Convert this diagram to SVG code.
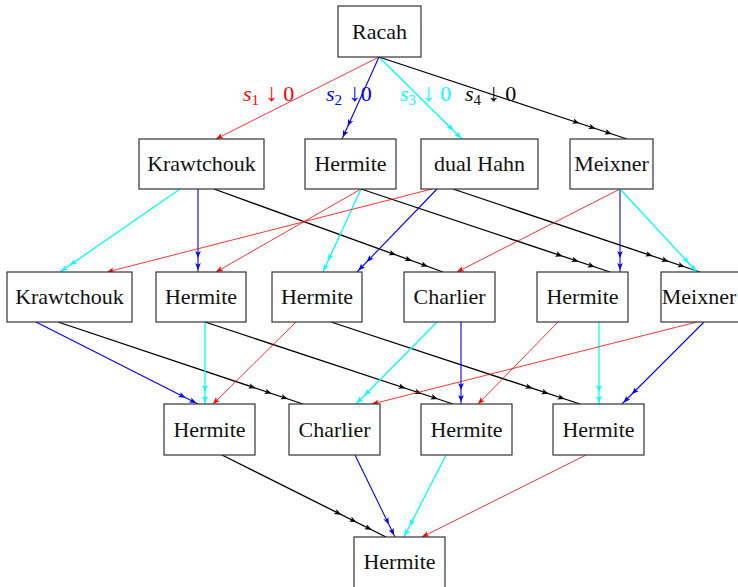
<svg xmlns="http://www.w3.org/2000/svg" width="738" height="587" viewBox="0 0 738 587">
<defs>
<style>
.box{fill:#fff;stroke:#333;stroke-width:1.2}
.t{font-family:"Liberation Serif","DejaVu Serif",serif;font-size:22px;fill:#111;text-anchor:middle}
.lbl{font-family:"Liberation Serif","DejaVu Serif",serif;font-size:22px}
.r{stroke:#ff0000;stroke-width:0.8;fill:none;marker-end:url(#mr)}
.b{stroke:#0000ff;stroke-width:1.1;fill:none;marker-end:url(#mb)}
.c{stroke:#00ffff;stroke-width:1.3;fill:none;marker-end:url(#mc)}
.k{stroke:#000;stroke-width:1.3;fill:none;marker-end:url(#mk)}
</style>
<marker id="mr" markerUnits="userSpaceOnUse" viewBox="-60 -6 62 12" markerWidth="62" markerHeight="12" refX="0" refY="0" orient="auto" overflow="visible"><path d="M0,0 L-7,-2.8 L-5.3,0 L-7,2.8 Z" fill="#ff0000"/></marker>
<marker id="mb" markerUnits="userSpaceOnUse" viewBox="-60 -6 62 12" markerWidth="62" markerHeight="12" refX="0" refY="0" orient="auto" overflow="visible"><path d="M-2,0 L-9,-2.8 L-7.3,0 L-9,2.8 Z M-14,0 L-21,-2.8 L-19.3,0 L-21,2.8 Z" fill="#0000ff"/></marker>
<marker id="mc" markerUnits="userSpaceOnUse" viewBox="-60 -6 62 12" markerWidth="62" markerHeight="12" refX="0" refY="0" orient="auto" overflow="visible"><path d="M-1,0 L-8,-2.8 L-6.3,0 L-8,2.8 Z M-12,0 L-19,-2.8 L-17.3,0 L-19,2.8 Z" fill="#00ffff"/></marker>
<marker id="mk" markerUnits="userSpaceOnUse" viewBox="-60 -6 62 12" markerWidth="62" markerHeight="12" refX="0" refY="0" orient="auto" overflow="visible"><path d="M-16,0 L-23,-2.8 L-21.3,0 L-23,2.8 Z M-33,0 L-40,-2.8 L-38.3,0 L-40,2.8 Z M-50,0 L-57,-2.8 L-55.3,0 L-57,2.8 Z" fill="#000"/></marker>
</defs>
<rect width="738" height="587" fill="#fff"/>
<g id="connectors">
<line class="r" x1="379" y1="57" x2="216" y2="139"/>
<line class="b" x1="379" y1="57" x2="342" y2="139"/>
<line class="c" x1="379" y1="57" x2="462" y2="139"/>
<line class="k" x1="379" y1="57" x2="627" y2="139"/>
<line class="c" x1="180" y1="189" x2="60" y2="272"/>
<line class="b" x1="198" y1="189" x2="198" y2="272"/>
<line class="k" x1="214" y1="189" x2="443" y2="272"/>
<line class="r" x1="361" y1="189" x2="216" y2="272"/>
<line class="c" x1="361" y1="189" x2="323" y2="272"/>
<line class="k" x1="361" y1="189" x2="610" y2="272"/>
<line class="r" x1="432" y1="189" x2="107" y2="272"/>
<line class="b" x1="437" y1="189" x2="357" y2="272"/>
<line class="k" x1="453" y1="189" x2="700" y2="272"/>
<line class="r" x1="620" y1="189" x2="457" y2="272"/>
<line class="b" x1="620" y1="189" x2="620" y2="272"/>
<line class="c" x1="620" y1="189" x2="697" y2="272"/>
<line class="b" x1="36" y1="322" x2="198" y2="404"/>
<line class="k" x1="58" y1="322" x2="303" y2="404"/>
<line class="c" x1="205" y1="322" x2="205" y2="404"/>
<line class="k" x1="205" y1="322" x2="453" y2="404"/>
<line class="r" x1="296" y1="322" x2="213" y2="404"/>
<line class="k" x1="331" y1="322" x2="580" y2="404"/>
<line class="c" x1="437" y1="322" x2="356" y2="404"/>
<line class="b" x1="461" y1="322" x2="461" y2="404"/>
<line class="r" x1="558" y1="322" x2="478" y2="404"/>
<line class="c" x1="599" y1="322" x2="599" y2="404"/>
<line class="r" x1="697" y1="322" x2="372" y2="404"/>
<line class="b" x1="704" y1="322" x2="622" y2="404"/>
<line class="k" x1="222" y1="455" x2="386" y2="537"/>
<line class="b" x1="355" y1="455" x2="395" y2="537"/>
<line class="c" x1="446" y1="455" x2="404" y2="537"/>
<line class="r" x1="586" y1="455" x2="422" y2="537"/>
</g>
<g id="labels" class="lbl">
<text x="243" y="101" fill="#ff0000"><tspan font-style="italic">s</tspan><tspan font-size="15" dy="4">1</tspan><tspan dy="-4" font-size="25"> ↓</tspan><tspan> 0</tspan></text>
<text x="326" y="101" fill="#0000ff"><tspan font-style="italic">s</tspan><tspan font-size="15" dy="4">2</tspan><tspan dy="-4" font-size="25"> ↓</tspan><tspan>0</tspan></text>
<text x="400" y="101" fill="#00ffff"><tspan font-style="italic">s</tspan><tspan font-size="15" dy="4">3</tspan><tspan dy="-4" font-size="25"> ↓</tspan><tspan> 0</tspan></text>
<text x="465" y="101" fill="#000"><tspan font-style="italic">s</tspan><tspan font-size="15" dy="4">4</tspan><tspan dy="-4" font-size="25"> ↓</tspan><tspan> 0</tspan></text>
</g>
<g id="racah"><rect class="box" x="338" y="6" width="83" height="51"/><text class="t" x="379.5" y="39">Racah</text></g>
<g id="krawtchouk2"><rect class="box" x="139" y="139" width="125" height="50"/><text class="t" x="201.5" y="171">Krawtchouk</text></g>
<g id="hermite2"><rect class="box" x="305" y="139" width="91" height="50"/><text class="t" x="350.5" y="171">Hermite</text></g>
<g id="dualhahn2"><rect class="box" x="421" y="139" width="117" height="50"/><text class="t" x="479.5" y="171">dual Hahn</text></g>
<g id="meixner2"><rect class="box" x="570" y="139" width="83" height="50"/><text class="t" x="611.5" y="171">Meixner</text></g>
<g id="krawtchouk3"><rect class="box" x="7" y="272" width="125" height="50"/><text class="t" x="69.5" y="304">Krawtchouk</text></g>
<g id="hermite3a"><rect class="box" x="156" y="272" width="90" height="50"/><text class="t" x="201" y="304">Hermite</text></g>
<g id="hermite3b"><rect class="box" x="272" y="272" width="90" height="50"/><text class="t" x="317" y="304">Hermite</text></g>
<g id="charlier3"><rect class="box" x="404" y="272" width="91" height="50"/><text class="t" x="449.5" y="304">Charlier</text></g>
<g id="hermite3d"><rect class="box" x="537" y="272" width="91" height="50"/><text class="t" x="582.5" y="304">Hermite</text></g>
<g id="meixner3"><rect class="box" x="661" y="272" width="84" height="50"/><text class="t" x="699" y="304" font-size="21">Meixner</text></g>
<g id="hermite4a"><rect class="box" x="164" y="404" width="91" height="51"/><text class="t" x="209.5" y="437">Hermite</text></g>
<g id="charlier4"><rect class="box" x="289" y="404" width="91" height="51"/><text class="t" x="334.5" y="437">Charlier</text></g>
<g id="hermite4c"><rect class="box" x="421" y="404" width="91" height="51"/><text class="t" x="466.5" y="437">Hermite</text></g>
<g id="hermite4d"><rect class="box" x="553" y="404" width="91" height="51"/><text class="t" x="598.5" y="437">Hermite</text></g>
<g id="hermite5"><rect class="box" x="354" y="537" width="91" height="51"/><text class="t" x="399.5" y="569">Hermite</text></g>
</svg>
